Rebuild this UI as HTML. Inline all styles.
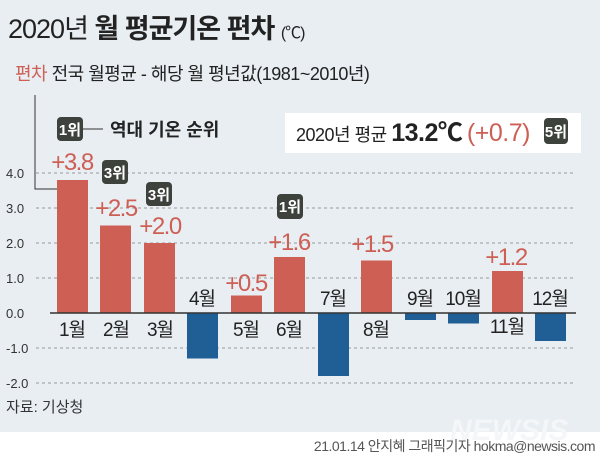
<!DOCTYPE html>
<html><head><meta charset="utf-8"><style>
body{margin:0;width:600px;height:458px;overflow:hidden;background:#e9eef2}
</style></head><body>
<svg width="600" height="458" xmlns="http://www.w3.org/2000/svg" style="position:absolute;left:0;top:0;font-family:'Liberation Sans','Noto Sans CJK KR',sans-serif">
<rect width="600" height="458" fill="#e9eef2"/>
<rect y="432" width="600" height="26" fill="#fff"/>
<text x="8" y="38" font-size="27" fill="#222" letter-spacing="-1">2020년 <tspan font-weight="bold">월 평균기온 편차</tspan> <tspan font-size="16">(℃)</tspan></text>
<text x="15" y="80" font-size="18" fill="#222" letter-spacing="-0.5"><tspan fill="#cd5f55">편차</tspan> 전국 월평균 - 해당 월 평년값(1981~2010년)</text>
<path d="M35 95V189H68" stroke="#333" fill="none" stroke-width="1"/>
<rect x="57" y="117" width="26" height="24" rx="4" fill="#3d423d"/>
<text x="70" y="135" font-size="15" fill="#fff" text-anchor="middle" font-weight="bold">1위</text>
<line x1="83" y1="129" x2="103" y2="129" stroke="#333"/>
<text x="110" y="136" font-size="18" fill="#222" font-weight="bold">역대 기온 순위</text>
<rect x="285" y="113" width="296" height="40" fill="#fff"/>
<text x="296" y="141" font-size="18" fill="#222" letter-spacing="-0.5">2020년 평균 <tspan font-size="25" font-weight="bold">13.2℃</tspan> <tspan font-size="25" fill="#cd5f55">(+0.7)</tspan></text>
<rect x="544" y="118" width="24" height="26" rx="4" fill="#3d423d"/>
<text x="556" y="137" font-size="15" fill="#fff" text-anchor="middle" font-weight="bold">5위</text>
<g stroke="#999" stroke-dasharray="3,3" stroke-width="1">
<line x1="36" y1="173" x2="576" y2="173"/><line x1="36" y1="208" x2="576" y2="208"/>
<line x1="36" y1="243" x2="576" y2="243"/><line x1="36" y1="278" x2="576" y2="278"/>
<line x1="36" y1="348" x2="576" y2="348"/><line x1="36" y1="383" x2="576" y2="383"/>
</g>
<g font-size="13" fill="#333">
<text x="6" y="178">4.0</text><text x="6" y="213">3.0</text><text x="6" y="248">2.0</text>
<text x="6" y="283">1.0</text><text x="6" y="318">0.0</text><text x="6" y="353">-1.0</text><text x="6" y="388">-2.0</text>
</g>
<g>
<rect x="57" y="180" width="31" height="133" fill="#cd5f55"/>
<rect x="100" y="225.5" width="31" height="87.5" fill="#cd5f55"/>
<rect x="144" y="243" width="31" height="70" fill="#cd5f55"/>
<rect x="187" y="313" width="31" height="45.5" fill="#1f5f96"/>
<rect x="231" y="295.5" width="31" height="17.5" fill="#cd5f55"/>
<rect x="274" y="257" width="31" height="56" fill="#cd5f55"/>
<rect x="318" y="313" width="31" height="63" fill="#1f5f96"/>
<rect x="361" y="260.5" width="31" height="52.5" fill="#cd5f55"/>
<rect x="405" y="313" width="31" height="7" fill="#1f5f96"/>
<rect x="448" y="313" width="31" height="10.5" fill="#1f5f96"/>
<rect x="492" y="271" width="31" height="42" fill="#cd5f55"/>
<rect x="535" y="313" width="31" height="28" fill="#1f5f96"/>
</g>
<line x1="50" y1="313" x2="576" y2="313" stroke="#333" stroke-width="1.5"/>
<g font-size="24" fill="#cd5f55" text-anchor="middle" letter-spacing="-1.5">
<text x="72" y="170">+3.8</text><text x="116" y="216">+2.5</text><text x="160" y="234">+2.0</text>
<text x="246" y="291">+0.5</text><text x="289" y="250">+1.6</text><text x="372" y="252">+1.5</text>
<text x="506" y="265">+1.2</text>
</g>
<g font-size="19" fill="#222" text-anchor="middle" letter-spacing="-1">
<text x="72" y="336">1월</text><text x="116" y="336">2월</text><text x="160" y="336">3월</text>
<text x="202" y="305">4월</text><text x="246" y="336">5월</text><text x="289" y="336">6월</text>
<text x="333" y="305">7월</text><text x="376" y="336">8월</text><text x="420" y="305">9월</text>
<text x="463" y="305">10월</text><text x="507" y="333">11월</text><text x="550" y="305">12월</text>
</g>
<g font-weight="bold" font-size="15" fill="#fff" text-anchor="middle">
<rect x="102" y="160" width="26" height="24" rx="4" fill="#3d423d"/><text x="115" y="178">3위</text>
<rect x="146" y="182" width="26" height="24" rx="4" fill="#3d423d"/><text x="159" y="200">3위</text>
<rect x="277" y="194" width="26" height="25" rx="4" fill="#3d423d"/><text x="290" y="212">1위</text>
</g>
<text x="6" y="412" font-size="15" fill="#333">자료: 기상청</text>
<text x="450" y="440" font-size="30" font-weight="bold" font-style="italic" fill="#f4f6f8">NEWSIS</text>
<text x="595" y="451" font-size="14" fill="#555" text-anchor="end" letter-spacing="-0.5">21.01.14 안지혜 그래픽기자 hokma@newsis.com</text>
</svg>
</body></html>
